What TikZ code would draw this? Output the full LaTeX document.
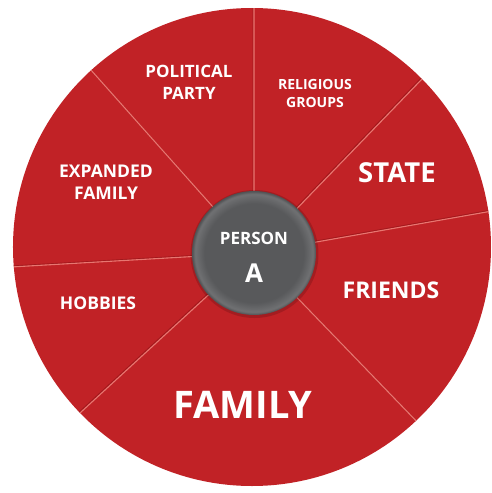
\documentclass[tikz,border=0pt]{standalone}
\usepackage{fontspec}
\setmainfont{Open Sans}
\usepackage{tikz}

\definecolor{wheelred}{RGB}{193,34,38}
\definecolor{wheelline}{RGB}{232,118,112}
\definecolor{wheeldark}{RGB}{140,18,22}
\definecolor{hubgray}{RGB}{88,89,91}
\definecolor{hubrim}{RGB}{112,113,115}

\pgfdeclareradialshading{hubshade}{\pgfpoint{0bp}{0bp}}{%
  color(0bp)=(hubgray); color(20bp)=(hubgray); color(23.8bp)=(hubrim);
  color(25bp)=(hubgray!90!black); color(50bp)=(hubgray!90!black)}

\tikzset{
  label/.style={text=white,font=\bfseries,align=center,inner sep=0pt},
  divline/.style={draw=wheelline,line width=1.1pt},
  divshade/.style={draw=wheeldark,line width=1pt,opacity=.6}
}

\begin{document}
\begin{tikzpicture}[x=1pt,y=1pt]
    \useasboundingbox (-254,-240) rectangle (237,253);
    \fill[wheelred] (-2,6) circle (239);
    \scope
    \clip (-2,6) circle (239);
    \draw[divshade,shift={(-0.8,0.9)}]
    (0,0) -- (90:260) (0,0) -- (46:260) (0,0) -- (10:260)
    (0,0) -- (-46:260) (0,0) -- (222.6:260) (0,0) -- (183.3:260)
    (0,0) -- (131.7:260);
    \draw[divline]
    (0,0) -- (90:260) (0,0) -- (46:260) (0,0) -- (10:260)
    (0,0) -- (-46:260) (0,0) -- (222.6:260) (0,0) -- (183.3:260)
    (0,0) -- (131.7:260);
    \endscope
    % hub
    \fill[black,opacity=.15] (0.5,-1) circle (64);
    \shade[shading=hubshade] (0,0) circle (62);
    \node[label,font=\bfseries\fontsize{17}{22}\selectfont] (party) at (-65,171) {POLITICAL\\PARTY};
    \node[label,font=\bfseries\fontsize{14}{18}\selectfont] (religion) at (61,160) {RELIGIOUS\\GROUPS};
    \node[label,font=\bfseries\fontsize{27.5}{30}\selectfont] (state) at (143,80) {STATE};
    \node[label,font=\bfseries\fontsize{17.5}{22}\selectfont] (expanded) at (-148,71) {EXPANDED\\FAMILY};
    \node[label,font=\bfseries\fontsize{17.5}{22}\selectfont] (hobbies) at (-156,-50) {HOBBIES};
    \node[label,font=\bfseries\fontsize{23}{26}\selectfont] (friends) at (137,-37) {FRIENDS};
    \node[label,font=\bfseries\fontsize{38}{40}\selectfont] (family) at (-11,-152) {FAMILY};
    \node[label,font=\bfseries\fontsize{17}{20}\selectfont] (person) at (0,15) {PERSON};
    \node[label,font=\bfseries\fontsize{26}{28}\selectfont] (persona) at (0,-20) {A};
\end{tikzpicture}
\end{document}
